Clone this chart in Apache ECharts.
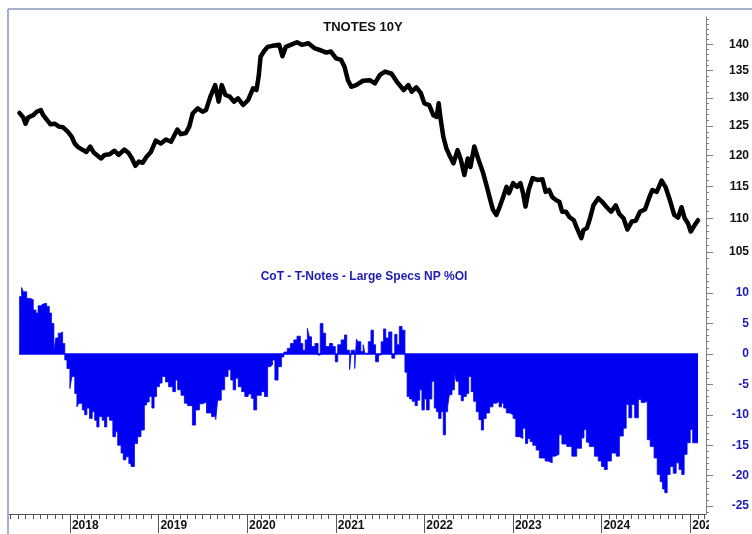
<!DOCTYPE html>
<html>
<head>
<meta charset="utf-8">
<script src="https://cdn.jsdelivr.net/npm/echarts@6/dist/echarts.min.js"></script>
<style>
html,body{margin:0;padding:0;background:#fff;}
#c{width:752px;height:534px;}
</style>
</head>
<body>
<div id="c"></div>
<script>
// ---------- DATA ----------
const priceDates = [
'2017-06-07','2017-06-23','2017-07-02','2017-07-13','2017-08-03','2017-08-17','2017-09-03','2017-09-13','2017-09-30','2017-10-13',
'2017-10-31','2017-11-17','2017-12-03','2017-12-24','2018-01-08','2018-01-21','2018-02-04','2018-02-24','2018-03-10','2018-03-26',
'2018-04-09','2018-04-27','2018-05-10','2018-05-24','2018-06-13','2018-07-04','2018-07-21','2018-08-13','2018-08-31','2018-09-14',
'2018-09-28','2018-10-12','2018-10-28','2018-11-13','2018-12-01','2018-12-21','2019-01-11','2019-02-01','2019-02-22','2019-03-20',
'2019-04-03','2019-04-24','2019-05-08','2019-05-22','2019-06-12','2019-07-02','2019-07-16','2019-08-03','2019-08-23','2019-09-06',
'2019-09-19','2019-10-04','2019-10-22','2019-11-08','2019-11-25','2019-12-16','2020-01-06','2020-01-26','2020-02-09','2020-02-18',
'2020-02-26','2020-03-10','2020-03-26','2020-04-15','2020-05-13','2020-05-26','2020-06-09','2020-06-29','2020-07-25','2020-08-14',
'2020-09-10','2020-10-07','2020-11-02','2020-11-22','2020-12-12','2021-01-02','2021-01-23','2021-02-06','2021-02-20','2021-03-06',
'2021-03-26','2021-04-23','2021-05-21','2021-06-11','2021-07-02','2021-07-23','2021-08-19','2021-09-10','2021-10-08','2021-10-27',
'2021-11-10','2021-11-29','2021-12-17','2022-01-01','2022-01-21','2022-02-07','2022-02-21','2022-03-01','2022-03-10','2022-03-20',
'2022-04-02','2022-04-16','2022-05-01','2022-05-18','2022-06-01','2022-06-15','2022-06-29','2022-07-10','2022-07-26','2022-08-13',
'2022-08-30','2022-09-16','2022-09-30','2022-10-11','2022-10-25','2022-11-08','2022-11-22','2022-12-06','2022-12-16','2023-01-02',
'2023-01-18','2023-02-01','2023-02-12','2023-02-22','2023-03-07','2023-03-23','2023-04-12','2023-05-03','2023-05-16','2023-05-30',
'2023-06-12','2023-06-28','2023-07-12','2023-07-23','2023-08-08','2023-08-22','2023-09-09','2023-09-22','2023-10-10','2023-10-19',
'2023-11-02','2023-11-15','2023-11-29','2023-12-19','2024-01-05','2024-01-23','2024-02-10','2024-02-29','2024-03-14','2024-04-01',
'2024-04-17','2024-05-05','2024-05-21','2024-06-08','2024-06-29','2024-07-15','2024-07-29','2024-08-16','2024-09-05','2024-09-22',
'2024-10-10','2024-10-27','2024-11-12','2024-11-26','2024-12-09','2024-12-23','2025-01-03','2025-01-20','2025-02-02'
];
const priceValues = [
127.3,126.5,125.4,126.5,126.9,127.5,127.8,126.9,126.0,125.3,
125.4,124.9,124.8,124.0,123.2,122.0,121.4,120.9,120.6,121.5,
120.5,119.9,119.5,120.1,120.2,120.8,120.1,121.0,120.4,119.5,
118.3,119.0,118.8,119.8,120.6,122.5,122.0,122.7,122.3,124.4,
123.6,123.8,124.9,127.2,128.1,127.5,127.8,130.2,132.3,129.3,
132.3,130.5,130.2,129.3,129.9,128.7,129.6,131.7,131.4,133.9,
137.6,138.6,139.5,139.7,139.9,137.7,139.5,139.9,140.4,139.9,
140.2,139.2,138.8,138.4,138.6,137.3,137.0,135.7,133.2,132.0,
132.3,133.1,133.2,132.6,134.2,134.8,134.4,132.9,131.4,132.3,
131.1,131.9,130.9,129.0,128.7,126.9,126.6,129.0,126.0,123.2,
121.2,119.9,118.7,120.9,119.2,116.8,119.5,118.1,121.5,119.2,
117.3,114.9,112.8,111.3,110.5,111.8,113.3,114.9,113.9,115.5,
114.9,115.5,113.9,111.8,114.4,116.3,116.0,116.1,114.1,114.4,
113.3,112.8,112.5,111.0,111.0,110.2,109.7,108.5,107.0,108.2,
108.5,110.0,112.0,113.1,112.5,111.7,111.0,112.0,110.7,110.0,
108.3,109.5,109.6,111.0,111.4,113.1,114.4,114.1,115.9,114.8,
112.7,110.5,110.1,111.7,110.0,109.2,108.0,109.0,109.7
];
const cotDates = [
'2017-06-06','2017-06-16','2017-06-23','2017-07-07','2017-07-23','2017-08-03','2017-08-14','2017-08-23','2017-09-02','2017-09-13',
'2017-09-27','2017-10-08','2017-10-17','2017-10-27','2017-11-04','2017-11-14','2017-11-23','2017-12-02','2017-12-11','2017-12-20',
'2018-01-01','2018-01-09','2018-01-21','2018-01-30','2018-02-07','2018-02-21','2018-03-03','2018-03-12','2018-03-23','2018-04-03',
'2018-04-13','2018-04-22','2018-05-01','2018-05-14','2018-05-24','2018-06-02','2018-06-13','2018-06-27','2018-07-08','2018-07-17',
'2018-07-31','2018-08-09','2018-08-20','2018-09-01','2018-09-10','2018-09-24','2018-10-07','2018-10-21','2018-11-04','2018-11-13',
'2018-11-24','2018-12-05','2018-12-14','2018-12-24','2019-01-05','2019-01-16','2019-01-30','2019-02-12','2019-03-01','2019-03-12',
'2019-03-21','2019-04-04','2019-04-18','2019-05-01','2019-05-21','2019-06-03','2019-06-19','2019-07-02','2019-07-18','2019-08-08',
'2019-08-25','2019-09-02','2019-09-17','2019-10-01','2019-10-15','2019-10-26','2019-11-05','2019-11-15','2019-11-26','2019-12-10',
'2019-12-23','2020-01-06','2020-01-19','2020-01-29','2020-02-10','2020-02-29','2020-03-13','2020-03-26','2020-04-06','2020-04-15',
'2020-04-25','2020-05-08','2020-05-22','2020-06-01','2020-06-15','2020-06-28','2020-07-12','2020-07-25','2020-08-08','2020-08-18',
'2020-08-28','2020-09-06','2020-09-14','2020-09-23','2020-10-07','2020-10-20','2020-10-29','2020-11-09','2020-11-20','2020-12-06',
'2020-12-19','2020-12-30','2021-01-09','2021-01-23','2021-02-06','2021-02-15','2021-02-27','2021-03-06','2021-03-20','2021-03-27',
'2021-04-03','2021-04-14','2021-04-24','2021-05-01','2021-05-15','2021-05-26','2021-06-05','2021-06-14','2021-06-26','2021-07-07',
'2021-07-17','2021-07-26','2021-08-07','2021-08-20','2021-09-01','2021-09-10','2021-09-20','2021-10-01','2021-10-13','2021-10-22',
'2021-11-01','2021-11-12','2021-11-24','2021-12-03','2021-12-13','2021-12-22','2022-01-01','2022-01-10','2022-01-21','2022-02-01',
'2022-02-11','2022-02-20','2022-03-01','2022-03-11','2022-03-20','2022-03-29','2022-04-07','2022-04-14','2022-04-25','2022-05-05',
'2022-05-12','2022-05-23','2022-06-02','2022-06-11','2022-06-23','2022-07-03','2022-07-13','2022-07-23','2022-08-03','2022-08-14',
'2022-08-24','2022-09-02','2022-09-13','2022-09-27','2022-10-11','2022-10-25','2022-11-05','2022-11-15','2022-11-24','2022-12-05',
'2022-12-19','2023-01-02','2023-01-13','2023-01-29','2023-02-11','2023-02-22','2023-03-03','2023-03-13','2023-03-24','2023-04-07',
'2023-04-20','2023-05-14','2023-05-26','2023-06-12','2023-06-24','2023-07-10','2023-07-22','2023-08-11','2023-09-01','2023-09-21',
'2023-10-11','2023-10-21','2023-10-31','2023-11-12','2023-12-03','2023-12-19','2024-01-01','2024-01-13','2024-01-25','2024-02-11',
'2024-03-02','2024-03-15','2024-03-31','2024-04-12','2024-04-23','2024-05-05','2024-05-17','2024-06-01','2024-06-13','2024-06-25',
'2024-07-08','2024-07-20','2024-08-05','2024-08-18','2024-08-30','2024-09-09','2024-09-18','2024-09-28','2024-10-10','2024-10-23',
'2024-11-04','2024-11-16','2024-11-27','2024-12-07','2024-12-19','2025-01-01','2025-01-11','2025-02-02'
];
const cotValues = [
9.4,10.9,10.2,9.1,8.9,7.2,6.7,7.9,8.2,8.3,
7.8,6.7,5.0,0.4,2.6,3.4,3.6,1.7,-1.0,-2.4,
-5.7,-3.7,-6.5,-8.7,-8.1,-9.2,-10.0,-8.9,-10.6,-9.5,
-10.9,-12.0,-10.3,-10.9,-12.0,-10.3,-10.9,-13.6,-12.8,-15.0,
-16.3,-17.4,-16.9,-18.0,-18.5,-14.7,-13.6,-12.5,-8.4,-7.9,
-7.0,-8.9,-7.0,-5.4,-4.8,-3.7,-4.6,-5.4,-6.2,-4.3,
-5.9,-6.8,-8.1,-8.5,-11.7,-9.2,-8.2,-7.9,-9.7,-10.3,
-10.8,-7.6,-5.9,-3.7,-2.6,-4.3,-5.9,-4.0,-5.4,-6.2,
-7.0,-6.6,-7.3,-9.2,-6.8,-6.2,-7.0,-2.1,-1.8,-1.0,
-4.3,-2.1,-0.5,0.3,0.9,1.7,2.3,2.9,1.7,0.6,
2.3,4.2,2.8,1.2,1.7,-0.2,5.0,3.4,1.2,1.7,
1.2,-1.3,1.5,2.3,3.1,0.6,-2.6,0.6,-2.4,2.4,
2.0,0.4,1.5,0.1,2.0,3.9,1.5,-1.3,-0.2,2.0,
4.1,2.6,3.6,-0.7,3.2,1.5,4.5,3.9,-3.0,-7.0,
-7.4,-7.8,-8.5,-7.6,-5.9,-9.2,-7.4,-9.2,-7.4,-4.5,
-8.9,-9.5,-10.6,-9.5,-13.3,-9.5,-8.7,-6.7,-5.9,-2.8,
-4.5,-6.7,-7.7,-7.0,-6.5,-3.7,-6.2,-7.8,-9.5,-10.8,
-12.5,-10.6,-9.7,-8.7,-8.1,-7.8,-8.7,-8.1,-8.9,-9.7,
-10.0,-10.6,-13.6,-13.9,-12.2,-14.7,-13.9,-14.4,-15.0,-15.8,
-17.1,-17.6,-17.9,-16.8,-16.5,-13.3,-14.8,-15.2,-16.8,-15.5,
-13.8,-12.4,-14.5,-15.2,-16.8,-17.6,-18.5,-19.0,-17.6,-16.3,
-16.8,-13.5,-12.2,-8.3,-10.5,-8.3,-10.5,-7.5,-8.0,-7.8,
-14.1,-15.2,-17.1,-19.8,-21.0,-22.2,-22.8,-19.8,-18.5,-19.6,
-17.9,-19.0,-19.8,-16.5,-14.6,-12.4,-14.6,-14.6
];
const yearLabels = [2018,2019,2020,2021,2022,2023,2024,2025];
const priceTicks = [105,110,115,120,125,130,135,140];
const cotTicks = [-25,-20,-15,-10,-5,0,5,10];
const priceTitle = 'TNOTES 10Y';
const cotTitle = 'CoT - T-Notes - Large Specs NP %OI';

// ---------- build ----------
const ts = s => { const p = s.split('-').map(Number); return Date.UTC(p[0], p[1]-1, p[2]); };
const xMin = Date.UTC(2017, 3, 25);
const xMax = Date.UTC(2025, 2, 7);
const yearTs = yearLabels.map(y => Date.UTC(y, 0, 1));
const monthTs = [];
for (let y = 2017; y <= 2025; y++) for (let m = 1; m < 12; m++) {
  const t = Date.UTC(y, m, 1);
  if (t > xMin && t < xMax) monthTs.push(t);
}
const priceMinor = []; for (let v = 104; v <= 145; v++) priceMinor.push(v);
const cotMinor = []; for (let v = -26; v <= 14; v++) cotMinor.push(v);

const priceData = priceDates.map((d, i) => [ts(d), priceValues[i]]);
const cotData = cotDates.map((d, i) => [ts(d), cotValues[i]]);

const FONT = 'Liberation Sans, Arial, sans-serif';
const AX = '#7f7f7f';
const BLUE = '#0000f2';
const LBLUE = '#1c1cb4';

const chart = echarts.init(document.getElementById('c'), null, {renderer: 'canvas'});
chart.setOption({
  animation: false,
  backgroundColor: '#fff',
  title: [
    {text: priceTitle, left: 363, top: 21, textAlign: 'center', padding: 0,
     textStyle: {fontFamily: FONT, fontWeight: 'bold', fontSize: 13, color: '#111'}},
    {text: cotTitle, left: 364, top: 271, textAlign: 'center', padding: 0,
     textStyle: {fontFamily: FONT, fontWeight: 'bold', fontSize: 12, color: LBLUE}}
  ],
  grid: [
    {left: 9, right: 44, top: 17, height: 248},
    {left: 9, right: 44, top: 265, height: 249}
  ],
  xAxis: [
    {type: 'value', gridIndex: 0, min: xMin, max: xMax, show: false},
    {type: 'value', gridIndex: 1, min: xMin, max: xMax, position: 'bottom',
     axisLine: {show: true, onZero: false, lineStyle: {color: '#555', width: 1}},
     axisTick: {show: true, customValues: yearTs, length: 19, lineStyle: {color: '#555'}},
     axisLabel: {show: true, customValues: yearTs, align: 'left', margin: 6, padding: [0,0,0,2],
       formatter: v => String(new Date(v).getUTCFullYear()),
       fontFamily: FONT, fontWeight: 'bold', fontSize: 12, color: '#111'},
     splitLine: {show: false}},
    {type: 'value', gridIndex: 1, min: xMin, max: xMax, position: 'bottom',
     axisLine: {show: false, onZero: false},
     axisTick: {show: true, customValues: monthTs, length: 5, lineStyle: {color: '#555'}},
     axisLabel: {show: false}, splitLine: {show: false}}
  ],
  yAxis: [
    {type: 'log', gridIndex: 0, position: 'right', min: 103.1, max: 145.4,
     axisLine: {show: true, lineStyle: {color: AX}},
     axisTick: {show: true, customValues: priceTicks, length: 7, lineStyle: {color: AX}},
     axisLabel: {show: true, customValues: priceTicks, align: 'right', margin: 43,
       fontFamily: FONT, fontWeight: 'bold', fontSize: 12, color: '#111'},
     splitLine: {show: false}},
    {type: 'log', gridIndex: 0, position: 'right', min: 103.1, max: 145.4,
     axisLine: {show: false},
     axisTick: {show: true, customValues: priceMinor, length: 3, lineStyle: {color: AX}},
     axisLabel: {show: false}, splitLine: {show: false}},
    {type: 'value', gridIndex: 1, position: 'right', min: -26.3, max: 14.6,
     axisLine: {show: true, onZero: false, lineStyle: {color: AX}},
     axisTick: {show: true, customValues: cotTicks, length: 7, lineStyle: {color: AX}},
     axisLabel: {show: true, customValues: cotTicks, align: 'right', margin: 43,
       fontFamily: FONT, fontWeight: 'bold', fontSize: 12, color: LBLUE},
     splitLine: {show: false}},
    {type: 'value', gridIndex: 1, position: 'right', min: -26.3, max: 14.6,
     axisLine: {show: false, onZero: false},
     axisTick: {show: true, customValues: cotMinor, length: 3, lineStyle: {color: AX}},
     axisLabel: {show: false}, splitLine: {show: false}}
  ],
  series: [
    {type: 'line', xAxisIndex: 0, yAxisIndex: 0, data: priceData, showSymbol: false,
     lineStyle: {color: '#000', width: 4.5, join: 'round', cap: 'round'}, z: 3},
    {type: 'line', xAxisIndex: 1, yAxisIndex: 2, data: cotData, step: 'end', showSymbol: false,
     lineStyle: {color: BLUE, width: 0.8}, areaStyle: {color: BLUE, opacity: 1, origin: 'auto'},
     markLine: {silent: true, symbol: 'none', label: {show: false},
       lineStyle: {color: BLUE, width: 1.5, type: 'solid'},
       data: [[{coord: [cotData[0][0], 0]}, {coord: [cotData[cotData.length-1][0], 0]}]]}}
  ],
  graphic: [
    {type: 'line', shape: {x1: 8, y1: 9, x2: 8, y2: 534}, style: {stroke: '#8797bd', lineWidth: 1.5}, z: 10},
    {type: 'line', shape: {x1: 8, y1: 9, x2: 752, y2: 9}, style: {stroke: '#8797bd', lineWidth: 1.5}, z: 10},
    {type: 'rect', shape: {x: 709, y: 516, width: 43, height: 18}, style: {fill: '#fff'}, z: 10}
  ]
});
</script>
</body>
</html>
